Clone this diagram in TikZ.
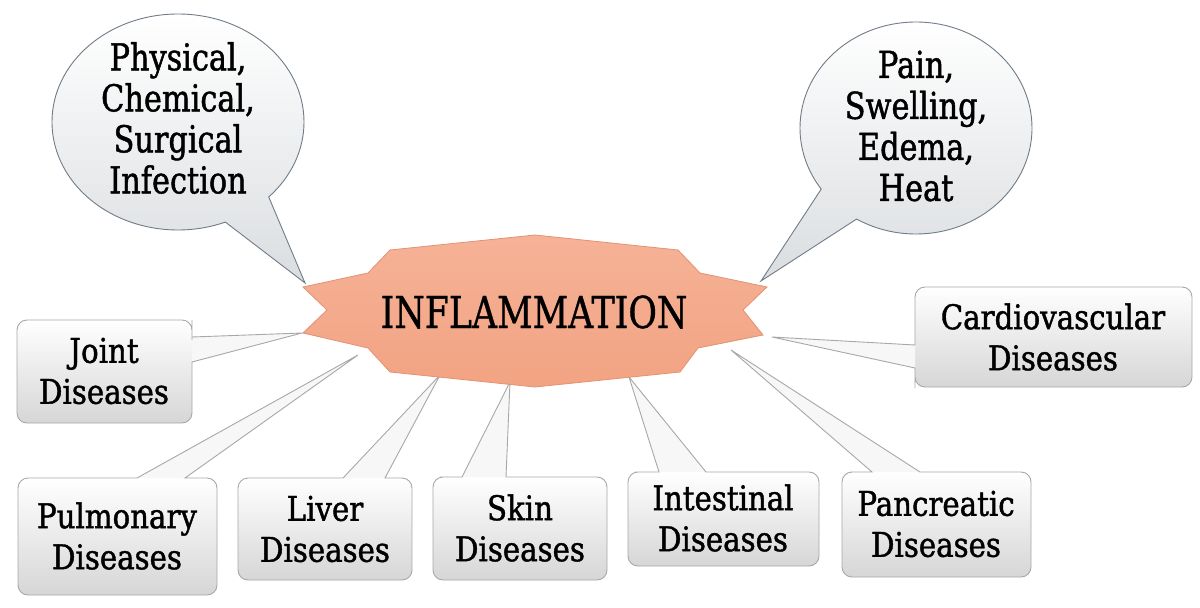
\documentclass[tikz,border=0pt]{standalone}
\usepackage{fontspec}
\setmainfont{DejaVu Serif}[FakeStretch=0.86,FakeBold=1.2]
\newfontfamily\bubfont{DejaVu Serif}[FakeStretch=0.82,FakeBold=1.2]
\newfontfamily\inflfont{DejaVu Serif}[FakeStretch=0.79,FakeBold=0.8]
\usetikzlibrary{shapes.callouts}
\definecolor{salmontop}{HTML}{F6B297}
\definecolor{salmonbot}{HTML}{F2A382}
\definecolor{salmonedge}{HTML}{E39274}
\definecolor{boxedge}{HTML}{A8A8A8}
\definecolor{boxbottom}{HTML}{D6D6D6}
\definecolor{wedgefill}{HTML}{F7F7F7}
\definecolor{bubbleedge}{HTML}{707C88}
\definecolor{bubblebottom}{HTML}{DADDE0}
\begin{document}
\begin{tikzpicture}[x=1pt,y=-1pt,
  boxshade/.style={top color=white, bottom color=boxbottom, rounded corners=10pt},
  wedgesty/.style={fill=wedgefill},
  boxline/.style={draw=boxedge, line width=0.9pt},
  lbl/.style={align=center, inner sep=0pt, font=\fontsize{34}{41}\selectfont},
  bubsty/.style={ellipse callout, draw=bubbleedge, line width=0.9pt, top color=white,
     bottom color=bubblebottom, callout pointer arc=24, inner sep=0pt},
  bubtxt/.style={align=center, inner sep=0pt, font=\bubfont\fontsize{37}{41}\selectfont},
  starsty/.style={draw=salmonedge, line width=0.8pt, top color=salmontop, bottom color=salmonbot, line join=miter}]
\useasboundingbox[fill=white] (0,0) rectangle (1200,608);

% wedge tips on the central shape
\coordinate (tPhys) at (305,283);
\coordinate (tPain) at (761,281);
\coordinate (tCard) at (772,337);
\coordinate (tJoint) at (302,333);
\coordinate (tPulm) at (358,355);
\coordinate (tLiver) at (440,375);
\coordinate (tSkin) at (510,382);
\coordinate (tInt) at (629,377);
\coordinate (tPanc) at (731,350);

% speech bubbles
\node[bubsty, minimum width=252pt, minimum height=216pt, callout absolute pointer={(tPhys)}] (physBub) at (178,122) {};
\node[bubtxt] (physTxt) at (178,118) {Physical,\\Chemical,\\Surgical\\Infection};
\node[bubsty, minimum width=232pt, minimum height=212pt, callout absolute pointer={(tPain)}] (painBub) at (916,128) {};
\node[bubtxt] (painTxt) at (916,126) {Pain,\\Swelling,\\Edema,\\Heat};

% disease callout boxes: shaded body, light wedge, outline
% Joint
\shade[boxshade] (17,320) rectangle (192,423);
\fill[wedgesty] (192,337) -- (tJoint) -- (192,362) -- cycle;
\draw[boxline] (192,337) -- (tJoint) -- (192,362) [rounded corners=10pt] -- (192,423) -- (17,423) -- (17,320) -- (192,320) -- (192,330) [sharp corners] -- cycle;
% Pulmonary
\shade[boxshade] (18,478) rectangle (217,595);
\fill[wedgesty] (137,478) -- (tPulm) -- (185,478) -- cycle;
\draw[boxline] (137,478) -- (tPulm) -- (185,478) [rounded corners=10pt] -- (217,478) -- (217,595) -- (18,595) -- (18,478) -- (60,478) [sharp corners] -- cycle;
% Liver
\shade[boxshade] (238,478) rectangle (412,580);
\fill[wedgesty] (343,478) -- (tLiver) -- (385,478) -- cycle;
\draw[boxline] (343,478) -- (tLiver) -- (385,478) [rounded corners=10pt] -- (412,478) -- (412,580) -- (238,580) -- (238,478) -- (280,478) [sharp corners] -- cycle;
% Skin
\shade[boxshade] (433,477) rectangle (607,580);
\fill[wedgesty] (462,477) -- (tSkin) -- (506,477) -- cycle;
\draw[boxline] (462,477) -- (tSkin) -- (506,477) [rounded corners=10pt] -- (607,477) -- (607,580) -- (433,580) -- (433,477) -- (450,477) [sharp corners] -- cycle;
% Intestinal
\shade[boxshade] (628,472) rectangle (819,566);
\fill[wedgesty] (659,472) -- (tInt) -- (706,472) -- cycle;
\draw[boxline] (659,472) -- (tInt) -- (706,472) [rounded corners=10pt] -- (819,472) -- (819,566) -- (628,566) -- (628,472) -- (645,472) [sharp corners] -- cycle;
% Pancreatic
\shade[boxshade] (842,472) rectangle (1031,577);
\fill[wedgesty] (872,472) -- (tPanc) -- (920,472) -- cycle;
\draw[boxline] (872,472) -- (tPanc) -- (920,472) [rounded corners=10pt] -- (1031,472) -- (1031,577) -- (842,577) -- (842,472) -- (860,472) [sharp corners] -- cycle;
% Cardiovascular
\shade[boxshade] (915,287) rectangle (1192,387);
\fill[wedgesty] (915,368) -- (tCard) -- (915,345) -- cycle;
\draw[boxline] (915,368) -- (tCard) -- (915,345) [rounded corners=10pt] -- (915,287) -- (1192,287) -- (1192,387) -- (915,387) -- (915,378) [sharp corners] -- cycle;

% central shape
\path[starsty] (535,235) -- (678,250) -- (700,273) -- (767,287) -- (743,310) -- (763,335)
  -- (698,348) -- (680,372) -- (535,387) -- (390,372) -- (368,348) -- (303,333)
  -- (327,310) -- (303,287) -- (368,273) -- (390,250) -- cycle;
\node[inner sep=0pt, font=\inflfont\fontsize{44}{44}\selectfont] (infl) at (534,312) {INFLAMMATION};

% labels
\node[lbl] (joint) at (104,371) {Joint\\Diseases};
\node[lbl] (pulm) at (117,536) {Pulmonary\\Diseases};
\node[lbl] (liver) at (325,529) {Liver\\Diseases};
\node[lbl] (skin) at (520,528) {Skin\\Diseases};
\node[lbl] (intest) at (723,518) {Intestinal\\Diseases};
\node[lbl] (panc) at (936,524) {Pancreatic\\Diseases};
\node[lbl] (card) at (1053,337) {Cardiovascular\\Diseases};
\end{tikzpicture}
\end{document}
